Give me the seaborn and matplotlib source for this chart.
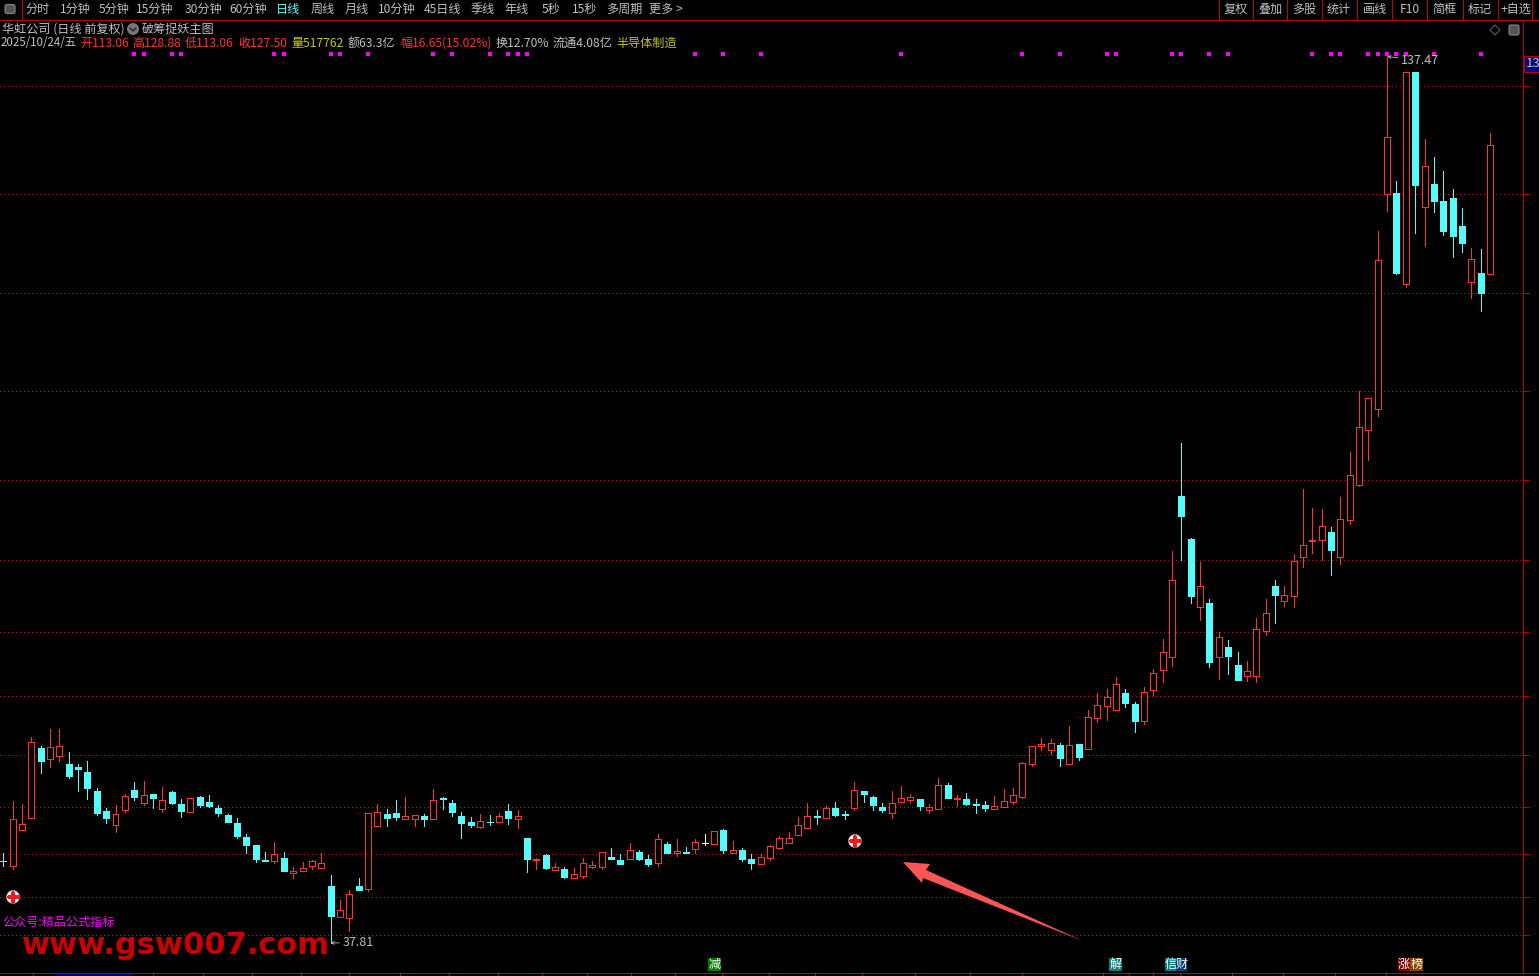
import matplotlib
matplotlib.use("Agg")
import matplotlib.pyplot as plt
import seaborn as sns
import pandas as pd
from matplotlib.lines import Line2D
from matplotlib.patches import Circle, Polygon, Rectangle, FancyBboxPatch
from matplotlib.transforms import Affine2D

# candle values
opens = [47.03, 46.48, 50.53, 51.88, 59.72, 58.52, 58.78, 57.92, 57.58, 57.02,
         54.88, 52.63, 51.09, 52.78, 54.99, 53.57, 54.54, 52.89, 54.77, 53.42,
         52.56, 54.21, 53.64, 52.97, 52.18, 51.28, 49.71, 48.81, 47.12, 47.06,
         47.36, 45.71, 45.93, 46.46, 46.27, 44.21, 40.72, 40.65, 44.21, 43.91,
         51.00, 52.31, 52.42, 51.78, 51.78, 52.08, 51.78, 54.06, 53.55, 52.08,
         51.41, 50.88, 51.45, 51.45, 52.65, 51.78, 49.61, 47.18, 47.70, 46.05,
         46.12, 45.15, 45.37, 46.38, 46.38, 47.47, 47.13, 47.28, 48.03, 47.25,
         46.83, 48.93, 47.96, 48.03, 48.41, 49.01, 48.97, 50.51, 47.96, 48.26,
         47.25, 46.72, 47.40, 48.52, 49.08, 49.97, 50.76, 52.07, 51.88, 52.97,
         52.29, 52.97, 54.88, 54.21, 53.08, 52.44, 53.68, 53.91, 53.98, 52.78,
         52.89, 55.56, 53.99, 53.98, 53.42, 53.31, 52.89, 53.08, 53.64, 54.21,
         57.96, 60.00, 59.55, 60.08, 57.98, 60.19, 59.66, 63.15, 64.50, 64.05,
         65.93, 64.69, 62.81, 66.19, 68.44, 70.01, 88.08, 83.25, 75.63, 76.05,
         70.01, 71.10, 69.07, 67.87, 67.87, 72.93, 77.96, 76.27, 76.87, 81.15,
         82.95, 83.06, 84.03, 81.15, 85.31, 89.24, 95.43, 97.83, 121.98, 122.17,
         111.93, 135.78, 120.52, 123.18, 121.27, 121.61, 118.46, 112.08, 113.17, 113.06]
highs = [47.87, 53.76, 53.42, 60.92, 59.95, 61.86, 61.86, 59.27, 57.92, 58.26,
         55.22, 52.97, 53.31, 54.54, 55.89, 56.01, 54.54, 55.33, 54.88, 53.98,
         54.06, 54.32, 54.43, 53.31, 52.29, 51.84, 50.04, 48.81, 48.02, 49.16,
         48.03, 46.35, 46.91, 47.13, 47.92, 45.45, 42.63, 43.76, 45.11, 52.38,
         53.43, 52.87, 53.88, 54.22, 52.16, 52.31, 55.12, 54.22, 53.88, 52.53,
         51.97, 52.31, 52.20, 52.42, 53.43, 52.76, 49.61, 47.36, 47.81, 46.80,
         46.35, 46.23, 47.36, 47.02, 48.00, 48.48, 47.81, 49.05, 48.26, 47.70,
         50.06, 49.16, 49.50, 48.60, 49.50, 50.06, 50.36, 50.62, 49.27, 48.48,
         47.81, 47.81, 48.82, 49.83, 50.28, 51.96, 53.53, 52.74, 53.19, 53.64,
         52.63, 55.89, 54.88, 54.32, 53.53, 54.88, 55.44, 54.54, 53.98, 53.42,
         56.35, 55.78, 54.43, 54.66, 53.98, 53.76, 54.32, 55.11, 55.22, 58.11,
         59.91, 60.86, 60.75, 60.30, 62.21, 60.19, 64.01, 65.93, 66.38, 67.73,
         66.38, 64.91, 66.60, 68.63, 71.96, 81.86, 94.05, 83.36, 80.66, 76.50,
         72.78, 71.88, 70.53, 69.52, 74.36, 76.50, 78.63, 77.96, 81.56, 88.87,
         86.73, 86.62, 84.60, 87.97, 93.03, 99.85, 99.07, 117.86, 137.47, 123.52,
         135.75, 135.78, 128.25, 126.22, 124.65, 122.62, 120.48, 115.98, 115.87, 128.88]
lows = [46.48, 46.15, 50.53, 51.88, 56.91, 57.62, 58.29, 56.35, 54.88, 53.98,
        52.18, 51.28, 50.27, 52.56, 53.87, 53.31, 52.97, 52.56, 53.42, 51.96,
        52.56, 53.08, 53.08, 52.07, 51.39, 49.59, 47.91, 46.89, 47.00, 46.83,
        45.90, 45.11, 45.93, 46.12, 46.27, 37.81, 40.72, 39.15, 43.76, 43.68,
        51.00, 50.96, 51.63, 51.78, 50.96, 50.96, 51.78, 52.87, 52.08, 49.61,
        50.85, 50.73, 51.07, 51.45, 51.18, 50.73, 45.78, 46.12, 46.12, 46.05,
        45.11, 45.15, 45.11, 46.23, 46.12, 47.25, 46.68, 47.28, 47.13, 46.46,
        46.46, 47.92, 47.58, 47.92, 47.92, 48.82, 48.97, 47.92, 47.96, 47.02,
        46.12, 46.72, 47.13, 48.37, 49.08, 49.97, 50.76, 51.17, 51.88, 52.07,
        51.73, 52.74, 53.64, 52.74, 52.52, 51.84, 53.68, 53.53, 52.74, 52.41,
        52.89, 54.09, 53.19, 53.31, 52.41, 52.63, 52.89, 53.08, 53.42, 54.10,
        57.75, 59.51, 59.06, 57.71, 57.98, 58.39, 59.66, 62.66, 62.89, 64.05,
        64.35, 61.54, 62.44, 65.70, 67.16, 68.96, 80.88, 76.05, 74.13, 68.85,
        67.50, 68.06, 67.38, 67.27, 67.16, 72.45, 73.80, 75.71, 75.60, 80.10,
        81.67, 80.81, 79.20, 80.43, 84.93, 89.13, 92.13, 97.08, 120.15, 113.06,
        111.60, 117.67, 116.21, 120.03, 117.45, 114.97, 115.53, 110.36, 108.90, 113.06]
closes = [47.00, 51.70, 51.13, 60.36, 58.26, 59.80, 59.91, 56.57, 57.36, 55.22,
          52.41, 51.84, 52.26, 54.28, 54.17, 54.39, 54.09, 53.83, 53.53, 52.63,
          54.06, 53.31, 53.19, 52.41, 51.39, 49.82, 48.81, 47.23, 47.06, 47.77,
          45.90, 45.86, 46.20, 46.98, 46.76, 40.83, 41.47, 43.27, 43.76, 52.38,
          52.50, 51.86, 51.97, 52.05, 52.16, 51.75, 53.85, 54.00, 52.53, 51.30,
          51.07, 51.48, 51.40, 52.05, 51.86, 52.05, 47.25, 47.25, 46.23, 46.31,
          45.22, 45.52, 46.76, 46.53, 48.00, 47.25, 46.68, 48.22, 47.25, 46.68,
          49.46, 47.92, 48.15, 47.97, 49.12, 49.01, 50.36, 48.26, 48.22, 47.25,
          46.80, 47.43, 48.67, 49.57, 49.57, 51.02, 52.03, 52.02, 52.93, 52.18,
          52.20, 54.99, 54.54, 53.31, 52.74, 53.49, 54.06, 54.17, 53.19, 53.12,
          55.52, 54.09, 54.06, 53.42, 53.37, 52.97, 53.16, 53.72, 54.39, 57.99,
          59.91, 60.15, 60.26, 58.61, 60.04, 58.73, 63.19, 64.54, 65.44, 66.90,
          64.80, 62.78, 66.00, 68.14, 70.50, 78.60, 85.83, 76.83, 77.92, 69.41,
          72.18, 70.08, 67.38, 68.36, 73.08, 74.88, 76.95, 76.91, 80.73, 82.53,
          83.13, 84.67, 82.01, 85.46, 90.41, 95.80, 99.07, 114.60, 128.43, 113.17,
          135.75, 123.07, 125.17, 121.27, 117.90, 117.33, 116.55, 114.71, 110.92, 127.50]

# candles carrying a magenta signal dot along the top
dot_idx = [14, 15, 18, 19, 29, 30, 35, 36, 39, 46, 48, 52, 54, 55, 56, 74, 77, 81, 96,
           109, 113, 118, 119, 125, 126, 129, 131, 140, 142, 143, 146, 147, 148, 149,
           150, 153, 158]
dot_price = 137.72

grid_prices = [134.17, 122.02, 110.89, 99.86, 89.85, 80.85, 72.75, 65.55, 58.92,
               53.07, 47.78, 42.94, 38.67]
date_ticks = [3.2, 16, 21.4, 26.6, 31.8, 37, 42.4, 47.7, 52.9, 57.6, 62.4, 67.1, 71.8,
              76.9, 81.9, 86.8, 91.8, 97.5, 103.4, 109, 117.6, 120.4, 123, 125.9, 131.4,
              136.9, 142.4, 147.9]

menu_left = [("分时", 38), ("1分钟", 75), ("5分钟", 114), ("15分钟", 155), ("30分钟", 203),
             ("60分钟", 248), ("日线", 288), ("周线", 323), ("月线", 357), ("10分钟", 397),
             ("45日线", 442), ("季线", 483), ("年线", 517), ("5秒", 551), ("15秒", 585),
             ("多周期", 624), ("更多 >", 666)]
menu_right = [("复权", 1236), ("叠加", 1270), ("多股", 1304), ("统计", 1339), ("画线", 1375),
              ("F10", 1410), ("简框", 1445), ("标记", 1480), ("+自选", 1516)]
menu_seps = [1219, 1253, 1287, 1322, 1357, 1392, 1427, 1463, 1498, 1532]

GREY = "#C0C0C0"
RED = "#FF3232"
CYAN = "#54FCFC"
LINE = "#C00000"
YELLOW = "#C8C800"
quote_row = [("2025/10/24/五", 1, GREY), ("开113.06", 80, RED), ("高128.88", 132, RED),
             ("低113.06", 185, RED), ("收127.50", 238, RED), ("量517762", 291, YELLOW),
             ("额63.3亿", 348, GREY), ("幅16.65(15.02%)", 400, RED), ("换12.70%", 496, GREY),
             ("流通4.08亿", 553, GREY), ("半导体制造", 616, YELLOW)]
# tag boxes along the bottom: text, left, right, colour
tags = [("减", 708, 721, "#008000"), ("解", 1109, 1122, "#008080"), ("信", 1165, 1176, "#008080"),
        ("财", 1176, 1187, "#003C78"), ("涨", 1398, 1410, "#800000"), ("榜", 1410, 1423, "#8B4500")]

sns.set_theme(style="dark", rc={"figure.facecolor": "black", "axes.facecolor": "black"})
plt.rcParams["font.family"] = ["Noto Sans CJK SC", "DejaVu Sans"]
plt.rcParams["axes.unicode_minus"] = False

W, H = 1539, 976
fig = plt.figure(figsize=(W / 100, H / 100), dpi=100)
ax = fig.add_axes([0, 1 - 972 / H, 1523 / W, (972 - 19.5) / H])
px = Affine2D().scale(1, -1).translate(0, H)  # screen pixels, origin top left

df = pd.DataFrame({"idx": range(len(opens)), "open": opens, "high": highs, "low": lows, "close": closes})
df["kind"] = "flat"
df.loc[df["close"] > df["open"], "kind"] = "up"
df.loc[df["close"] < df["open"], "kind"] = "down"
colors = {"up": RED, "down": CYAN, "flat": "white"}

THIN = 0.72

# wicks
wicks = df.melt(id_vars=["idx", "kind"], value_vars=["low", "high"], value_name="price")
sns.lineplot(data=wicks, x="idx", y="price", hue="kind", units="idx", estimator=None,
             palette=colors, lw=THIN, legend=False, ax=ax, zorder=2, antialiased=False)

# bodies
body_w = 0.64
up = df[df["kind"] != "down"]
ax.bar(up["idx"], up["close"] - up["open"], bottom=up["open"], width=body_w,
       facecolor="black", edgecolor=up["kind"].map(colors), linewidth=THIN, zorder=3, antialiased=False)
down = df[df["kind"] == "down"]
ax.bar(down["idx"], down["close"] - down["open"], bottom=down["open"], width=body_w,
       facecolor=CYAN, edgecolor=CYAN, linewidth=THIN, zorder=3, antialiased=False)

# signal dots
dots = pd.DataFrame({"idx": dot_idx, "price": [dot_price] * len(dot_idx)})
sns.scatterplot(data=dots, x="idx", y="price", marker="s", color="#FF00FF", s=6, linewidth=0, ax=ax, zorder=4)

ax.set_xlim(-0.353, 162.53)
ax.set_ylim(34.54, 141.63)
ax.set_xlabel("")
ax.set_ylabel("")
ax.set_xticks(date_ticks)
ax.set_yticks(grid_prices)
ax.grid(False)
ax.grid(axis="y", color="#D80000", lw=THIN, linestyle=(0, (1, 4)), zorder=1, antialiased=False)
sns.despine(ax=ax, left=True, top=True, bottom=True, right=False)
ax.yaxis.tick_right()
ax.tick_params(axis="x", length=3, width=THIN, color=LINE, bottom=True, labelbottom=False)
ax.tick_params(axis="y", length=4.5, width=THIN, color=LINE, left=False, right=True,
               labelleft=False, labelright=False)
ax.spines["right"].set_color(LINE)
ax.spines["right"].set_linewidth(THIN)


def label(x, y, s, color=GREY, ha="left", size=8.7, **kw):
    fig.text(x, y, s, color=color, ha=ha, va="center", size=size, transform=px, **kw)


def rule(x0, y0, x1, y1, color=LINE, lw=THIN):
    fig.add_artist(Line2D([x0, x1], [y0, y1], color=color, lw=lw, transform=px, antialiased=False))


# high / low labels
ax.annotate("137.47", xy=(148, 137.47), xytext=(14, -4), textcoords="offset pixels", color=GREY,
            size=9, va="center", ha="left", zorder=6,
            arrowprops=dict(arrowstyle="->", color=GREY, lw=0.6, shrinkA=0, shrinkB=0, mutation_scale=5))
ax.annotate("37.81", xy=(35, 37.81), xytext=(12, 0), textcoords="offset pixels", color=GREY,
            size=9, va="center", ha="left", zorder=6,
            arrowprops=dict(arrowstyle="->", color=GREY, lw=0.6, shrinkA=0, shrinkB=0, mutation_scale=5))

# top menu
rule(0, 19.5, W, 19.5)
rule(22, 0, 22, 19)
fig.add_artist(FancyBboxPatch((5, 4.5), 10, 9, boxstyle="round,pad=0,rounding_size=2", transform=px,
                              facecolor="#555555", edgecolor="#888888", lw=0.8))
for name, x in menu_left:
    label(x, 9.5, name, color=CYAN if name == "日线" else GREY, ha="center")
for name, x in menu_right:
    label(x, 9.5, name, ha="center")
for x in menu_seps:
    rule(x, 0, x, 19)

# title rows
label(2, 29, "华虹公司 (日线 前复权)")
fig.add_artist(Circle((133, 29), 6, transform=px, facecolor="#777777", edgecolor="none"))
fig.add_artist(Line2D([130, 133, 136], [28, 31, 28], color="#222222", lw=1, transform=px))
label(142, 29, "破筹捉妖主图")
for s, x, c in quote_row:
    label(x, 43, s, color=c, size=8.3 if x == 1 else 8.7)

# small icons top right
fig.add_artist(Polygon([(1495, 25), (1500, 30), (1495, 35), (1490, 30)], transform=px, fill=False,
                       edgecolor="#666666", lw=0.7))
fig.add_artist(FancyBboxPatch((1509, 25), 10, 10, boxstyle="round,pad=0,rounding_size=2", transform=px,
                              facecolor="#555555", edgecolor="#888888", lw=0.8))
fig.add_artist(Rectangle((1524, 56), 15, 15.5, transform=px, facecolor="#000080", edgecolor=LINE, lw=0.7))
label(1526, 63.5, "13", size=9.5)

# marker circles
for cx, cy in [(13, 897), (855, 841)]:
    fig.add_artist(Circle((cx, cy), 6.5, transform=px, facecolor="white", edgecolor="#999999", lw=0.5))
    rule(cx - 4.5, cy, cx + 4.5, cy, color="#F01818", lw=1.5)
    rule(cx, cy - 4.5, cx, cy + 4.5, color="#F01818", lw=1.5)

# big hand drawn arrow
fig.add_artist(Polygon([(903, 862), (930, 864), (926, 870), (1083, 941), (923, 878), (922, 883)],
                       transform=px, facecolor="#FF5555", edgecolor="none"))

# watermark and signature
label(2, 922, "公众号:精品公式指标", color="#FF00FF")
label(22, 945, "www.gsw007.com", color="#C80000", size=22, family="DejaVu Sans", weight="bold")

# bottom
rule(0, 972.5, W, 972.5)
fig.add_artist(Rectangle((55, 973), 78, 3, transform=px, facecolor="#000080", edgecolor="none"))
for s, x0, x1, c in tags:
    fig.add_artist(Rectangle((x0, 958), x1 - x0, 13, transform=px, facecolor=c, edgecolor="none"))
    label((x0 + x1) / 2, 964.5, s, color="white", ha="center", size=8.7)

fig.savefig("out.png", dpi=100, facecolor="black")
